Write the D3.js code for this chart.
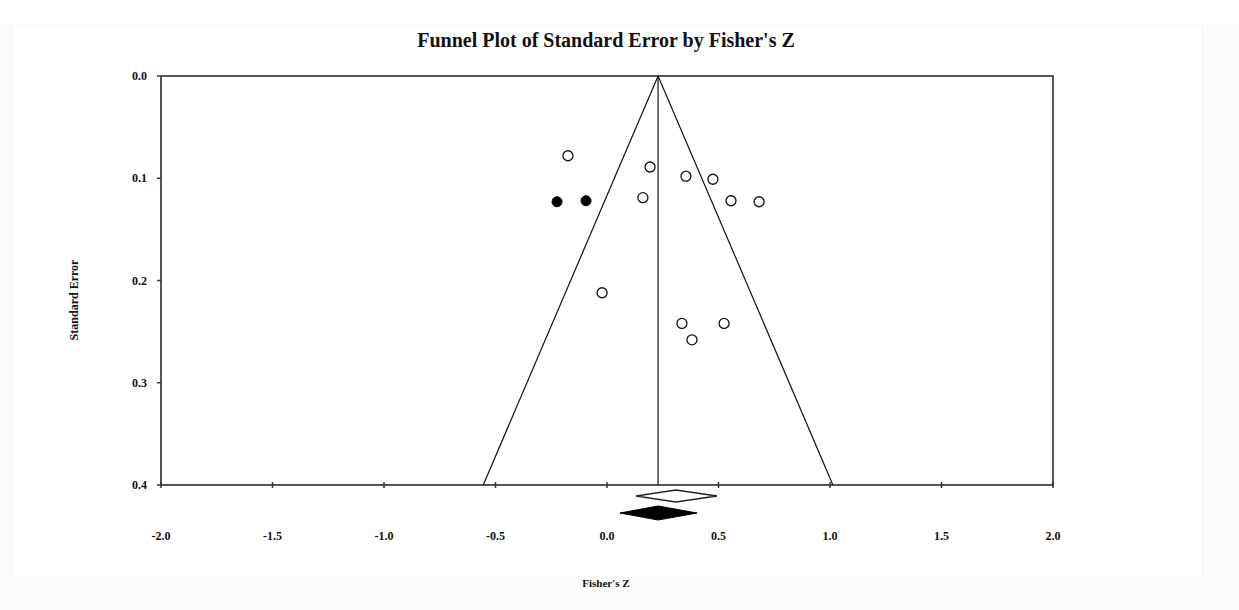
<!DOCTYPE html>
<head>
<meta charset="utf-8">
<style>
body { margin: 0; background: #fbfbfb; }
text { font-family: "Liberation Serif", "Times New Roman", serif; font-weight: bold; fill: #111; }
.frame { fill: none; stroke: #555; stroke-width: 2px; }
.funnel { fill: none; stroke: #111; stroke-width: 1.2px; }
</style>
</head>
<body>
<script src="https://d3js.org/d3.v7.min.js"></script>
<script>

// observed studies (open circles)
var obsZ  = [-0.175, 0.193, 0.354, 0.475, 0.161, 0.556, 0.682, -0.022, 0.336, 0.525, 0.381];
var obsSE = [0.078, 0.089, 0.098, 0.101, 0.119, 0.122, 0.123, 0.212, 0.242, 0.242, 0.258];
// imputed studies (filled circles)
var impZ  = [-0.224, -0.094];
var impSE = [0.123, 0.122];
// summary effects: [lower, point, upper]
var obsSummary = [0.130, 0.309, 0.493];
var adjSummary = [0.058, 0.229, 0.404];
var funnelMean = 0.229;
var zCrit = 1.96;
var xTicks = [-2.0, -1.5, -1.0, -0.5, 0.0, 0.5, 1.0, 1.5, 2.0];
var yTicks = [0.0, 0.1, 0.2, 0.3, 0.4];

var W = 1239, H = 610;
var margin = {top: 76, right: 186, bottom: 125, left: 161},
    width = W - margin.left - margin.right,
    height = H - margin.top - margin.bottom;

var svg = d3.select("body").append("svg")
    .attr("width", W)
    .attr("height", H);

// faint page panel
svg.append("rect")
    .attr("x", 12).attr("y", 24).attr("width", 1190).attr("height", 553)
    .style("fill", "#fff").style("stroke", "#f4f4f4");
svg.append("rect")
    .attr("x", 0).attr("y", 0).attr("width", W).attr("height", 24)
    .style("fill", "#fff");

var g = svg.append("g")
    .attr("transform", "translate(" + margin.left + "," + margin.top + ")");

var x = d3.scaleLinear().domain([-2, 2]).range([0, width]);
var y = d3.scaleLinear().domain([0, 0.4]).range([0, height]);

// title
svg.append("text")
    .attr("x", 606).attr("y", 47)
    .attr("text-anchor", "middle")
    .style("font-size", "20px")
    .text("Funnel Plot of Standard Error by Fisher's Z");

// box
g.append("rect").attr("class", "frame")
    .attr("width", width).attr("height", height);

// funnel lines
var seMax = 0.4;
g.append("path").attr("class", "funnel")
    .attr("d", d3.line()([
      [x(funnelMean - zCrit * seMax), y(seMax)],
      [x(funnelMean), y(0)],
      [x(funnelMean + zCrit * seMax), y(seMax)]
    ]));
g.append("line").attr("class", "funnel")
    .attr("x1", x(funnelMean)).attr("x2", x(funnelMean))
    .attr("y1", y(0)).attr("y2", y(seMax));

// x axis ticks and labels
g.selectAll(".xt").data(xTicks).enter().append("line")
    .attr("x1", function(d) { return x(d); }).attr("x2", function(d) { return x(d); })
    .attr("y1", height - 3).attr("y2", height + 3)
    .style("stroke", "#333").style("stroke-width", 1.5);
g.selectAll(".xl").data(xTicks).enter().append("text")
    .attr("x", function(d) { return x(d); })
    .attr("y", height + 55)
    .attr("text-anchor", "middle")
    .style("font-size", "12px")
    .text(function(d) { return d3.format(".1f")(d).replace("−", "-"); });

// y axis ticks and labels
g.selectAll(".yt").data(yTicks).enter().append("line")
    .attr("x1", -4).attr("x2", 0)
    .attr("y1", function(d) { return y(d); }).attr("y2", function(d) { return y(d); })
    .style("stroke", "#333").style("stroke-width", 1.5);
g.selectAll(".yl").data(yTicks).enter().append("text")
    .attr("x", -14)
    .attr("y", function(d) { return y(d) + 4; })
    .attr("text-anchor", "end")
    .style("font-size", "12px")
    .text(function(d) { return d3.format(".1f")(d); });

// axis titles
svg.append("text")
    .attr("transform", "translate(78,300) rotate(-90)")
    .attr("text-anchor", "middle")
    .style("font-size", "12px")
    .text("Standard Error");
svg.append("text")
    .attr("x", 606).attr("y", 587)
    .attr("text-anchor", "middle")
    .style("font-size", "11px")
    .text("Fisher's Z");

// studies
g.selectAll(".obs").data(obsZ).enter().append("circle")
    .attr("cx", function(d) { return x(d); })
    .attr("cy", function(d, i) { return y(obsSE[i]); })
    .attr("r", 5)
    .style("fill", "#fff").style("stroke", "#111").style("stroke-width", 1.3);
g.selectAll(".imp").data(impZ).enter().append("circle")
    .attr("cx", function(d) { return x(d); })
    .attr("cy", function(d, i) { return y(impSE[i]); })
    .attr("r", 5)
    .style("fill", "#000").style("stroke", "#000");

// summary diamonds
function diamond(s, cy, hh) {
  return d3.line()([
    [x(s[0]), cy], [x(s[1]), cy - hh], [x(s[2]), cy], [x(s[1]), cy + hh]
  ]) + "Z";
}
g.append("path")
    .attr("d", diamond(obsSummary, height + 11, 6))
    .style("fill", "#fff").style("stroke", "#222").style("stroke-width", 1.5);
g.append("path")
    .attr("d", diamond(adjSummary, height + 28, 7))
    .style("fill", "#000").style("stroke", "#000");

</script>
</body>
